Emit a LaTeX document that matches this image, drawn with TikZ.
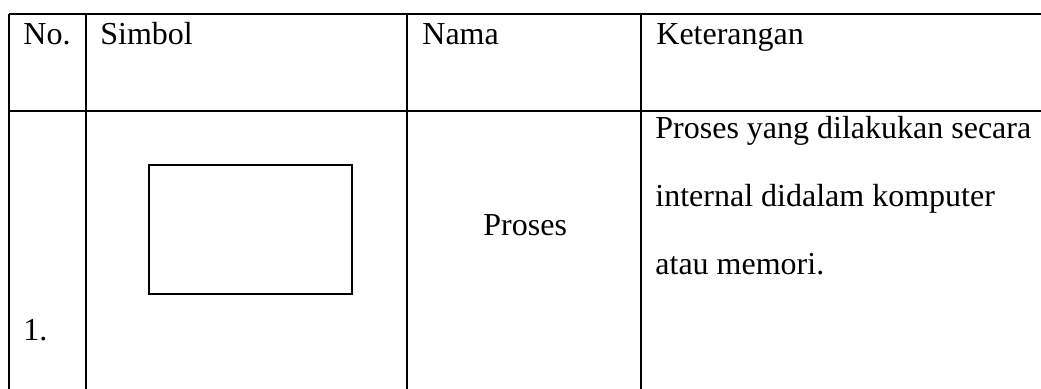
\documentclass[tikz,border=0pt]{standalone}
\usepackage{fontspec}
\setmainfont{Liberation Serif}
\usetikzlibrary{positioning}

\begin{document}
\begin{tikzpicture}[x=0.5pt, y=-0.5pt,
          rule/.style = {line width=1pt},
           txt/.style = {anchor=base west, inner sep=0pt,
                         font=\fontsize{16}{19}\selectfont},
        symbox/.style = {draw, line width=1pt, inner sep=0pt,
                         minimum width=101.5pt, minimum height=64.5pt}
                        ]
\useasboundingbox (0,0) rectangle (1041,388);
\clip (0,0) rectangle (1041,388);
% Draw the table rules
\draw[rule] (9,14) -- (1060,14)
            (9,111) -- (1060,111);
\foreach \x in {9,86,407,641}
    \draw[rule] (\x,14) -- (\x,400);
% Header row
\node[txt] (h-no)   at (23,44)  {No.};
\node[txt] (h-sym)  at (100,44) {Simbol};
\node[txt] (h-name) at (422,44) {Nama};
\node[txt] (h-desc) at (656,44) {Keterangan};
% Row 1
\node[txt] (r1-no) at (23,340) {1.};
\node[symbox] (r1-sym) at (250.5,229.5) {};
\node[txt] (r1-name) at (483,235) {Proses};
\node[txt] (r1-d1) at (655,138) {Proses yang dilakukan secara};
\node[txt] (r1-d2) at (655,206) {internal didalam komputer};
\node[txt] (r1-d3) at (655,274) {atau memori.};
\end{tikzpicture}
\end{document}
